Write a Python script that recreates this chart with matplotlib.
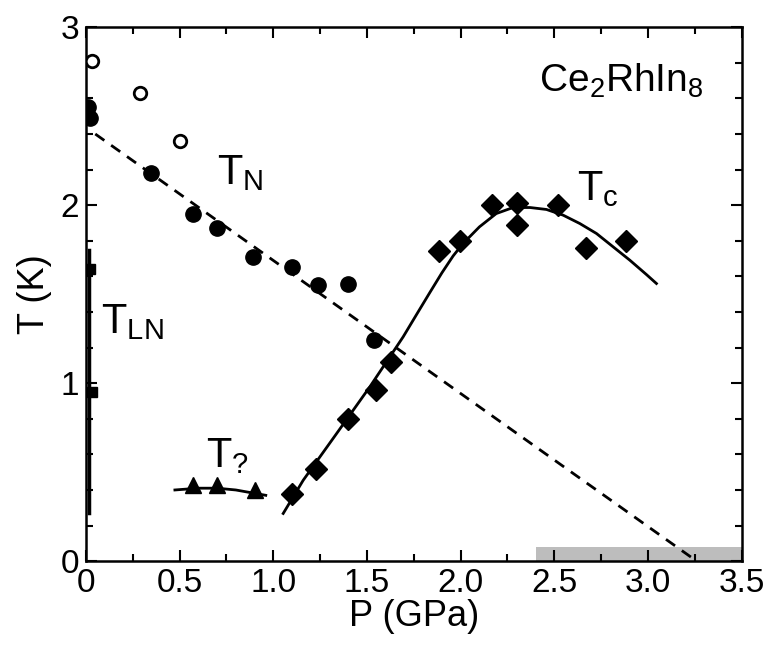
import matplotlib
matplotlib.use("Agg")
import matplotlib.pyplot as plt
from matplotlib.ticker import MultipleLocator
from matplotlib.patches import Rectangle

plt.rcParams['font.family'] = ['Liberation Sans', 'DejaVu Sans']

# ---- data ----
# T_N, closed circles
tn_p = [0.01, 0.02, 0.35, 0.57, 0.70, 0.89, 1.10, 1.24, 1.40, 1.54]
tn_t = [2.55, 2.49, 2.18, 1.95, 1.87, 1.71, 1.65, 1.55, 1.56, 1.24]
# open circles
open_p = [0.03, 0.29, 0.50]
open_t = [2.81, 2.63, 2.36]
# T_LN, squares and vertical line
tln_p = [0.02, 0.03]
tln_t = [1.64, 0.95]
tln_line_p = [0.015, 0.015]
tln_line_t = [1.75, 0.27]
# T_c, diamonds
tc_p = [1.10, 1.23, 1.40, 1.55, 1.63, 1.885, 1.995, 2.165, 2.30, 2.30, 2.52, 2.67, 2.885]
tc_t = [0.38, 0.52, 0.80, 0.96, 1.12, 1.74, 1.80, 2.00, 2.01, 1.89, 2.00, 1.76, 1.80]
# T_c guide curve
tc_fit_p = [1.053, 1.16, 1.338, 1.515, 1.693, 1.77, 1.836, 1.90, 1.96, 2.013, 2.10, 2.19,
            2.28, 2.37, 2.458, 2.547, 2.636, 2.725, 2.814, 2.903, 2.992, 3.045]
tc_fit_t = [0.268, 0.455, 0.717, 0.979, 1.26, 1.395, 1.51, 1.62, 1.715, 1.785, 1.878, 1.953,
            1.987, 1.987, 1.976, 1.944, 1.897, 1.841, 1.766, 1.691, 1.61, 1.56]
# T_?, triangles and guide line
t7_p = [0.57, 0.70, 0.90]
t7_t = [0.43, 0.43, 0.40]
t7_line_p = [0.475, 0.60, 0.70, 0.80, 0.96]
t7_line_t = [0.40, 0.41, 0.41, 0.40, 0.37]
# dashed T_N extrapolation
dash_p = [0.05, 3.26]
dash_t = [2.40, 0.0]
# grey band
band_p0, band_p1 = 2.40, 3.50
band_t0, band_t1 = 0.0, 0.08

x_ticks = [0, 0.5, 1.0, 1.5, 2.0, 2.5, 3.0, 3.5]
x_ticklabels = ['0', '0.5', '1.0', '1.5', '2.0', '2.5', '3.0', '3.5']
y_ticks = [0, 1, 2, 3]
y_ticklabels = ['0', '1', '2', '3']

fig = plt.figure(figsize=(7.67, 6.48), dpi=100)
ax = fig.add_axes([0.112, 0.134, 0.855, 0.824])

ax.add_patch(Rectangle((band_p0, band_t0), band_p1 - band_p0, band_t1 - band_t0,
                       facecolor='#bdbdbd', edgecolor='none', zorder=1))

ax.plot(dash_p, dash_t, color='black', lw=2, ls=(0, (4, 3)), zorder=2)
ax.plot(tc_fit_p, tc_fit_t, color='black', lw=2, zorder=2)
ax.plot(t7_line_p, t7_line_t, color='black', lw=2, zorder=2)
ax.plot(tln_line_p, tln_line_t, color='black', lw=2.5, zorder=2)

ax.plot(tn_p, tn_t, 'o', color='black', ms=11, ls='none', zorder=3)
ax.plot(open_p, open_t, 'o', mfc='white', mec='black', mew=2, ms=9, ls='none', zorder=3)
ax.plot(tln_p, tln_t, 's', color='black', ms=7, ls='none', zorder=3)
ax.plot(tc_p, tc_t, 'D', color='black', ms=11, ls='none', zorder=3)
ax.plot(t7_p, t7_t, '^', color='black', ms=12, ls='none', zorder=3)

ax.set_xlim(0, 3.5)
ax.set_ylim(0, 3)
ax.set_xticks(x_ticks)
ax.set_xticklabels(x_ticklabels)
ax.set_yticks(y_ticks)
ax.set_yticklabels(y_ticklabels)
ax.xaxis.set_minor_locator(MultipleLocator(0.25))
ax.yaxis.set_minor_locator(MultipleLocator(0.2))
ax.tick_params(which='both', direction='in', top=True, right=True, width=1.5)
ax.tick_params(which='major', length=8, labelsize=24, pad=5)
ax.tick_params(which='minor', length=5)
for s in ax.spines.values():
    s.set_linewidth(1.8)

ax.set_xlabel('P (GPa)', fontsize=26, labelpad=0)
ax.set_ylabel('T (K)', fontsize=26, labelpad=6)

ax.text(0.70, 2.12, r'T$_{\mathregular{N}}$', fontsize=30)
ax.text(2.62, 2.03, r'T$_{\mathregular{c}}$', fontsize=30)
ax.text(0.08, 1.28, r'T$_{\mathregular{LN}}$', fontsize=30)
ax.text(0.64, 0.53, r'T$_{\mathregular{?}}$', fontsize=30)
ax.text(2.42, 2.64, r'Ce$_{\mathregular{2}}$RhIn$_{\mathregular{8}}$', fontsize=28)

fig.savefig('out.png', dpi=100)
